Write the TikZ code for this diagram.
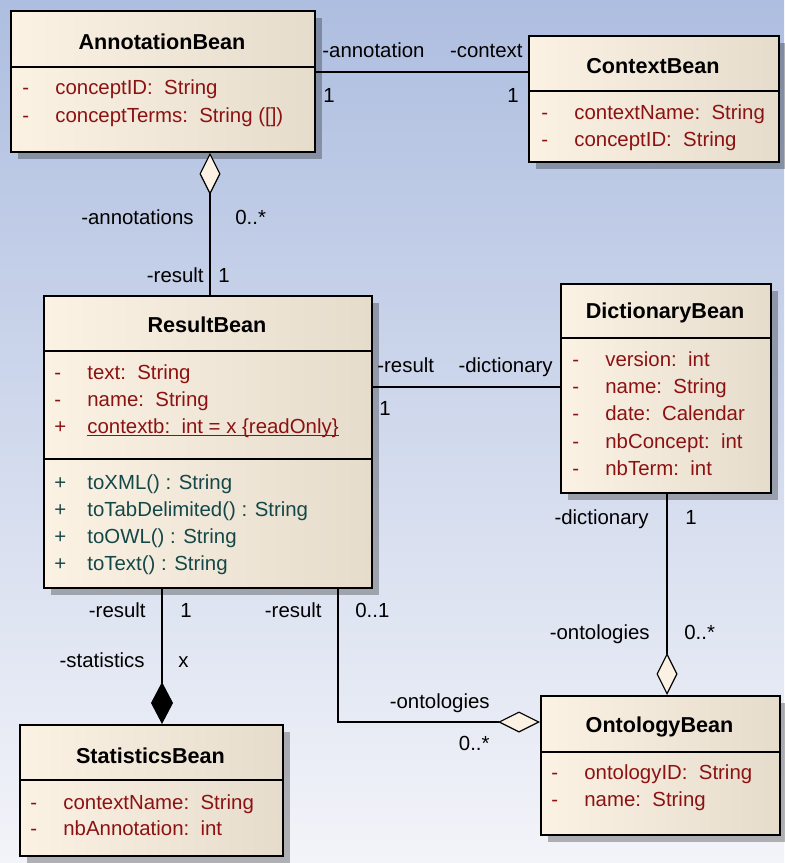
\documentclass[tikz,border=0pt]{standalone}
\usepackage{fontspec}
\setmainfont{Liberation Sans}
\usetikzlibrary{arrows.meta,shadows}
\definecolor{bgtop}{RGB}{174,190,224}
\definecolor{bgbot}{RGB}{243,244,249}
\definecolor{creamL}{RGB}{252,242,228}
\definecolor{creamR}{RGB}{230,220,204}
\definecolor{attrcol}{RGB}{140,18,18}
\definecolor{opcol}{RGB}{20,72,72}
\tikzset{
  classbox/.style={draw,line width=0.9pt,anchor=north west,inner sep=0pt,
    left color=creamL,right color=creamR,
    drop shadow={shadow xshift=3.5pt,shadow yshift=-3.5pt,fill=black,opacity=0.28}},
  classname/.style={font=\fontsize{10.8}{12}\selectfont\bfseries},
  attr/.style={anchor=west,inner sep=0pt,text height=7.4pt,text depth=0pt,
    font=\fontsize{10.2}{12}\selectfont,text=attrcol},
  oper/.style={attr,text=opcol},
  role/.style={inner sep=0pt,text height=7.4pt,text depth=0pt,font=\fontsize{10.2}{12}\selectfont},
  divider/.style={line width=0.9pt},
  assoc/.style={line width=0.6pt},
  aggstart/.style={assoc,{Diamond[open,fill=creamL,length=21pt,width=10.5pt]}-},
  aggend/.style={assoc,-{Diamond[open,fill=creamL,length=21pt,width=10.5pt]}},
  compend/.style={assoc,-{Diamond[length=21pt,width=11pt]}}
}
\newcommand{\sign}[1]{\makebox[16.5pt][l]{#1}}
\newcommand{\attrul}[1]{\setbox0\hbox{#1}\rlap{\rule[-1.4pt]{\wd0}{0.65pt}}\box0}

\begin{document}
\begin{tikzpicture}[x=0.5pt,y=-0.5pt]
  \shade[top color=bgtop,bottom color=bgbot] (0,0) rectangle (784,863);
  \useasboundingbox (0,0) rectangle (784,863);

  % AnnotationBean
  \node[classbox,minimum width=152pt,minimum height=70.5pt] (annot) at (10,10) {};
  \node[classname] (annot-t) at (162,42) {AnnotationBean};
  \draw[divider] (annot.west |- 0,67) -- (annot.east |- 0,67);
  \foreach \i/\y/\t in {1/87/{conceptID:~~String},2/115/{conceptTerms:~~String ([])}}
    \node[attr] (annot-a\i) at (22,\y) {\sign{-}\t};

  % ContextBean
  \node[classbox,minimum width=125pt,minimum height=63pt] (ctx) at (528,35) {};
  \node[classname] (ctx-t) at (653,66) {ContextBean};
  \draw[divider] (ctx.west |- 0,91) -- (ctx.east |- 0,91);
  \foreach \i/\y/\t in {1/112/{contextName:~~String},2/139/{conceptID:~~String}}
    \node[attr] (ctx-a\i) at (541,\y) {\sign{-}\t};

  % ResultBean
  \node[classbox,minimum width=164pt,minimum height=146pt] (result) at (43,295) {};
  \node[classname] (result-t) at (207,325) {ResultBean};
  \draw[divider] (result.west |- 0,351) -- (result.east |- 0,351);
  \draw[divider] (result.west |- 0,459) -- (result.east |- 0,459);
  \foreach \i/\y/\s/\t in {1/372/-/{text:~~String},2/399/-/{name:~~String},
      3/426/+/{\attrul{contextb:~~int = x \{readOnly\}}}}
    \node[attr] (result-a\i) at (54,\y) {\sign{\s}\t};
  \foreach \i/\y/\t in {1/482/{toXML() : String},2/509/{toTabDelimited() : String},
      3/536/{toOWL() : String},4/563/{toText() : String}}
    \node[oper] (result-o\i) at (54,\y) {\sign{+}\t};

  % DictionaryBean
  \node[classbox,minimum width=105pt,minimum height=104.5pt] (dict) at (560,283) {};
  \node[classname] (dict-t) at (665,313) {DictionaryBean};
  \draw[divider] (dict.west |- 0,338) -- (dict.east |- 0,338);
  \foreach \i/\y/\t in {1/359/{version:~~int},2/386/{name:~~String},3/413/{date:~~Calendar},
      4/441/{nbConcept:~~int},5/468/{nbTerm:~~int}}
    \node[attr] (dict-a\i) at (572,\y) {\sign{-}\t};

  % StatisticsBean
  \node[classbox,minimum width=131.5pt,minimum height=65.5pt] (stats) at (19,724) {};
  \node[classname] (stats-t) at (150.5,756) {StatisticsBean};
  \draw[divider] (stats.west |- 0,780) -- (stats.east |- 0,780);
  \foreach \i/\y/\t in {1/802/{contextName:~~String},2/828/{nbAnnotation:~~int}}
    \node[attr] (stats-a\i) at (30,\y) {\sign{-}\t};

  % OntologyBean
  \node[classbox,minimum width=119.5pt,minimum height=69.5pt] (onto) at (540,695) {};
  \node[classname] (onto-t) at (659.5,727) {OntologyBean};
  \draw[divider] (onto.west |- 0,752) -- (onto.east |- 0,752);
  \foreach \i/\y/\t in {1/772/{ontologyID:~~String},2/799/{name:~~String}}
    \node[attr] (onto-a\i) at (551,\y) {\sign{-}\t};

  % associations
  \draw[assoc] (annot.east |- 0,72) -- (ctx.west |- 0,72);
  \draw[aggstart] (annot.south -| 210,0) -- (result.north -| 210,0);
  \draw[assoc] (result.east |- 0,387) -- (dict.west |- 0,387);
  \draw[aggend] (dict.south -| 667,0) -- (onto.north -| 667,0);
  \draw[compend] (result.south -| 162,0) -- (stats.north -| 162,0);
  \draw[aggend] (result.south -| 338,0) |- (onto.west |- 0,722);

  % role names and multiplicities
  \node[role,anchor=west] (r1) at (322,50) {-annotation};
  \node[role,anchor=east] (r2) at (523,50) {-context};
  \node[role,anchor=west] (m1) at (323,95) {1};
  \node[role,anchor=east] (m2) at (519,95) {1};
  \node[role,anchor=east] (r3) at (194,217) {-annotations};
  \node[role,anchor=west] (m3) at (235,217) {0..*};
  \node[role,anchor=east] (r4) at (204,275) {-result};
  \node[role,anchor=west] (m4) at (218,275) {1};
  \node[role,anchor=west] (r5) at (377,365) {-result};
  \node[role,anchor=east] (r6) at (553,365) {-dictionary};
  \node[role,anchor=west] (m5) at (379,408) {1};
  \node[role,anchor=east] (r7) at (649,517) {-dictionary};
  \node[role,anchor=west] (m6) at (685,517) {1};
  \node[role,anchor=east] (r8) at (650,632) {-ontologies};
  \node[role,anchor=west] (m7) at (684,632) {0..*};
  \node[role,anchor=east] (r9) at (146,610) {-result};
  \node[role,anchor=west] (m8) at (180,610) {1};
  \node[role,anchor=east] (r10) at (145,660) {-statistics};
  \node[role,anchor=west] (m9) at (178,660) {x};
  \node[role,anchor=east] (r11) at (322,610) {-result};
  \node[role,anchor=west] (m10) at (355,610) {0..1};
  \node[role,anchor=east] (r12) at (490,701) {-ontologies};
  \node[role,anchor=east] (m11) at (490,743) {0..*};
\end{tikzpicture}
\end{document}
